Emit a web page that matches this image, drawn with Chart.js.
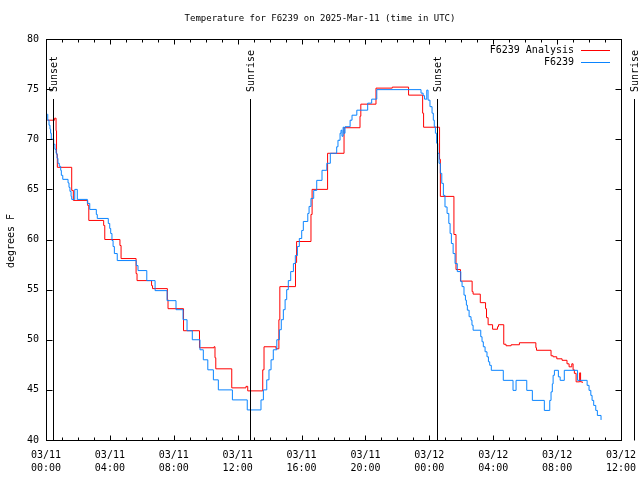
<!DOCTYPE html>
<html>
<head>
<meta charset="utf-8">
<title>Temperature for F6239</title>
<script src="https://cdn.jsdelivr.net/npm/chart.js@4.4.1/dist/chart.umd.min.js"></script>
<style>
  html, body { margin: 0; padding: 0; background: #fff; }
  canvas { display: block; }
</style>
</head>
<body>
<canvas id="chart1" width="640" height="480"></canvas>
<script>
// times are hours since 03/11 00:00 UTC, temps in degrees F
const analysisHours = [0.08, 0.54, 0.63, 0.66, 0.71, 1.61, 1.71, 2.61, 2.68, 3.61, 3.68, 4.63, 4.70, 5.64, 5.70,
  6.61, 6.67, 7.60, 7.64, 8.61, 9.61, 10.52, 10.58, 10.63, 11.63, 12.52, 12.63, 13.57, 13.65, 14.40, 14.58, 14.64,
  15.62, 15.69, 16.59, 16.66, 17.63, 18.66, 19.66, 19.71, 20.66, 21.68, 22.70, 23.58, 23.64, 24.64, 24.69, 25.54,
  25.67, 25.95, 26.68, 26.74, 27.19, 27.52, 27.58, 27.68, 27.96, 28.27, 28.33, 28.66, 28.80, 29.12, 29.64, 30.67,
  30.71, 31.62, 31.75, 31.98, 32.31, 32.62, 32.75, 32.92, 33.00, 33.08, 33.19, 33.41, 33.47, 33.58];
const analysisTemps = [71.9, 72.1, 70.85, 68.5, 67.2, 64.9, 63.9, 63.4, 61.9, 61.4, 60.0, 59.4, 58.1, 56.6, 55.9,
  55.4, 55.1, 54.0, 53.1, 50.9, 49.2, 49.3, 48.2, 47.1, 45.2, 45.35, 44.9, 47.0, 49.3, 49.1, 52.0, 55.3,
  57.7, 59.8, 62.5, 65.0, 68.6, 71.15, 72.3, 73.5, 75.1, 75.2, 74.4, 72.6, 71.2, 68.0, 64.3, 60.5,
  57.0, 55.85, 54.8, 54.55, 53.7, 53.1, 52.2, 51.5, 51.05, 51.3, 51.5, 49.55, 49.4, 49.5, 49.7, 49.2,
  48.95, 48.4, 48.3, 48.1, 47.95, 47.6, 47.3, 47.6, 47.0, 46.65, 45.8, 46.7, 45.8, 45.7];

const obsHours = [0.08, 0.11, 0.19, 0.25, 0.29, 0.33, 0.48, 0.56, 0.63, 0.69, 0.75, 0.83, 0.92, 0.96, 1.05,
  1.38, 1.44, 1.50, 1.57, 1.61, 1.80, 1.96, 2.59, 2.74, 3.15, 3.21, 3.90, 3.99, 4.05, 4.13, 4.20, 4.28, 4.46,
  5.65, 5.76, 6.31, 6.83, 7.58, 8.14, 8.58, 8.83, 9.16, 9.64, 9.85, 10.13, 10.48, 10.79, 11.67, 12.60,
  13.46, 13.61, 13.82, 13.96, 14.09, 14.23, 14.45, 14.61, 14.73, 14.86, 14.97, 15.07, 15.17, 15.32, 15.49,
  15.61, 15.74, 15.86, 16.01, 16.11, 16.39, 16.47, 16.59, 16.76, 16.95, 17.28, 17.58, 17.80, 18.20, 18.28,
  18.41, 18.47, 18.53, 18.60, 18.66, 18.72, 19.04, 19.16, 19.46, 20.14, 20.39, 20.71, 23.48, 23.61, 23.70,
  23.84, 23.92, 24.04, 24.17, 24.25, 24.31, 24.38, 24.46, 24.53, 24.61, 24.69, 24.78, 24.88, 24.98, 25.11,
  25.22, 25.30, 25.38, 25.49, 25.61, 25.75, 25.97, 26.05, 26.17, 26.26, 26.32, 26.38, 26.49, 26.61, 26.67,
  26.74, 27.22, 27.30, 27.38, 27.49, 27.61, 27.70, 27.78, 27.88, 28.63, 29.24, 29.43, 30.10, 30.45, 31.20,
  31.54, 31.62, 31.70, 31.75, 31.83, 32.08, 32.19, 32.45, 33.28, 33.88, 34.00, 34.11, 34.19, 34.29, 34.42,
  34.52, 34.75];
const obsTemps = [72.5, 71.9, 71.4, 71.0, 70.6, 70.0, 69.5, 69.0, 68.6, 68.1, 67.6, 67.3, 66.9, 66.4, 66.0,
  65.65, 65.2, 64.8, 64.3, 64.0, 65.0, 64.0, 63.6, 63.0, 62.5, 62.1, 61.6, 61.1, 60.6, 59.9, 59.3, 58.6, 57.9,
  57.4, 56.9, 55.9, 54.9, 53.9, 53.0, 52.0, 50.9, 50.0, 49.0, 48.0, 47.0, 46.0, 45.0, 44.0, 43.0,
  44.0, 45.0, 46.0, 47.0, 48.0, 49.0, 50.0, 51.0, 52.0, 53.0, 54.0, 55.0, 55.9, 56.8, 57.6,
  58.4, 59.3, 60.1, 60.9, 61.8, 62.6, 63.3, 64.1, 64.9, 65.9, 66.9, 67.6, 68.6, 69.25, 69.9,
  70.6, 70.9, 70.3, 71.2, 70.6, 71.25, 71.9, 72.4, 72.9, 73.6, 74.0, 74.95, 74.6, 74.35, 74.0,
  74.9, 73.9, 73.25, 72.6, 71.9, 71.25, 70.6, 69.6, 68.6, 67.6, 66.6, 65.6, 64.4, 63.25, 62.6,
  61.6, 60.6, 59.6, 58.6, 57.6, 56.8, 55.8, 55.3, 54.45, 53.95, 53.45, 52.95, 52.3, 51.95, 51.45,
  50.95, 50.3, 49.8, 49.3, 48.8, 48.3, 47.8, 47.45, 46.95, 45.95, 44.95, 45.95, 44.95, 43.95, 42.95,
  43.95, 44.8, 45.6, 46.45, 46.95, 46.3, 45.95, 46.95, 45.95, 45.45, 44.95, 44.45, 43.95, 43.45, 42.95,
  42.45, 42.0];

const sunHours = [0.46, 12.77, 24.50, 36.84];
const sunLabels = ['Sunset', 'Sunrise', 'Sunset', 'Sunrise'];

const tickDays = ['03/11', '03/11', '03/11', '03/11', '03/11', '03/11', '03/12', '03/12', '03/12', '03/12'];
const tickTimes = ['00:00', '04:00', '08:00', '12:00', '16:00', '20:00', '00:00', '04:00', '08:00', '12:00'];

const FONT = "'DejaVu Sans Mono', 'Liberation Mono', monospace";

function toPoints(xs, ys) {
  return xs.map((h, i) => ({ x: h, y: ys[i] }));
}

// gnuplot style frame: border, inward ticks, sun markers, legend and titles
const gnuplotFrame = {
  id: 'gnuplotFrame',
  afterDatasetsDraw(chart) {
    const ctx = chart.ctx;
    const a = chart.chartArea;
    const xs = chart.scales.x;
    const ys = chart.scales.y;
    const L = Math.round(a.left) + 0.5, R = Math.round(a.right) + 0.5;
    const T = Math.round(a.top) + 0.5, B = Math.round(a.bottom) + 0.5;

    ctx.save();
    ctx.strokeStyle = '#000';
    ctx.fillStyle = '#000';
    ctx.lineWidth = 1;

    // sunrise / sunset lines
    const topY = Math.round(ys.getPixelForValue(74));
    ctx.beginPath();
    sunHours.forEach(h => {
      const px = Math.round(xs.getPixelForValue(h)) + 0.5;
      ctx.moveTo(px, topY);
      ctx.lineTo(px, B);
    });
    ctx.stroke();

    ctx.font = '10px ' + FONT;
    sunHours.forEach((h, i) => {
      const px = Math.round(xs.getPixelForValue(h)) + 1;
      ctx.save();
      ctx.translate(px, topY - 7);
      ctx.rotate(-Math.PI / 2);
      ctx.textAlign = 'left';
      ctx.textBaseline = 'middle';
      ctx.fillText(sunLabels[i], 0, 0);
      ctx.restore();
    });

    // border
    ctx.strokeRect(L, T, R - L, B - T);

    // ticks pointing inward, mirrored on all sides
    ctx.beginPath();
    for (let v = 40; v <= 80; v += 5) {
      const py = Math.round(ys.getPixelForValue(v)) + 0.5;
      ctx.moveTo(L, py); ctx.lineTo(L + 6, py);
      ctx.moveTo(R, py); ctx.lineTo(R - 6, py);
    }
    for (let h = 0; h <= 36; h++) {
      const px = Math.round(xs.getPixelForValue(h)) + 0.5;
      const len = h % 4 === 0 ? 5 : 3;
      ctx.moveTo(px, B); ctx.lineTo(px, B - len);
      ctx.moveTo(px, T); ctx.lineTo(px, T + len);
    }
    ctx.stroke();

    // legend
    ctx.textAlign = 'right';
    ctx.textBaseline = 'middle';
    const ds = chart.data.datasets;
    ds.forEach((d, i) => {
      const ly = 50 + i * 12;
      ctx.fillText(d.label, 574, ly);
      ctx.strokeStyle = d.borderColor;
      ctx.beginPath();
      ctx.moveTo(581, ly + 0.5);
      ctx.lineTo(610, ly + 0.5);
      ctx.stroke();
    });

    // title
    ctx.textAlign = 'center';
    ctx.font = '9px ' + FONT;
    ctx.fillText('Temperature for F6239 on 2025-Mar-11 (time in UTC)', 320, 19);

    // y axis title
    ctx.font = '10px ' + FONT;
    ctx.save();
    ctx.translate(11, 241);
    ctx.rotate(-Math.PI / 2);
    ctx.fillText('degrees F', 0, 0);
    ctx.restore();

    ctx.restore();
  }
};

const ctx = document.getElementById('chart1').getContext('2d');
new Chart(ctx, {
  type: 'line',
  data: {
    datasets: [{
      label: 'F6239 Analysis',
      data: toPoints(analysisHours, analysisTemps),
      borderColor: '#ff0000',
      borderWidth: 1,
      pointRadius: 0,
      stepped: true,
      order: 1
    }, {
      label: 'F6239',
      data: toPoints(obsHours, obsTemps),
      borderColor: '#0a84ff',
      borderWidth: 1,
      pointRadius: 0,
      stepped: true,
      order: 0
    }]
  },
  options: {
    responsive: false,
    animation: false,
    devicePixelRatio: 1,
    layout: { padding: { top: 39, right: 19, left: 0, bottom: 0 } },
    plugins: {
      legend: { display: false },
      title: { display: false },
      tooltip: { enabled: false }
    },
    scales: {
      x: {
        type: 'linear',
        min: 0,
        max: 36,
        border: { display: false },
        grid: { display: false, drawTicks: false },
        ticks: {
          stepSize: 4,
          autoSkip: false,
          maxRotation: 0,
          padding: 9,
          color: '#000',
          font: { family: FONT, size: 10, lineHeight: 1.3 },
          callback: (v, i) => [tickDays[i], tickTimes[i]]
        },
        afterFit: s => { s.height = 40; s.paddingLeft = 0; s.paddingRight = 0; }
      },
      y: {
        min: 40,
        max: 80,
        border: { display: false },
        grid: { display: false, drawTicks: false },
        ticks: {
          stepSize: 5,
          padding: 7,
          color: '#000',
          font: { family: FONT, size: 10 }
        },
        afterFit: s => { s.width = 46; s.paddingTop = 0; s.paddingBottom = 0; }
      }
    }
  },
  plugins: [gnuplotFrame]
});
</script>
</body>
</html>
